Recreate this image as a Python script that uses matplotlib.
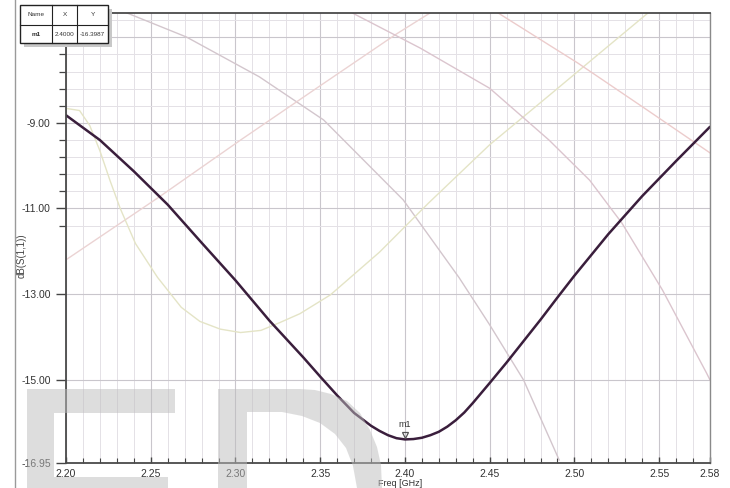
import matplotlib
matplotlib.use('Agg')
import matplotlib.pyplot as plt
from matplotlib.patches import Rectangle, PathPatch
from matplotlib.path import Path
from matplotlib.transforms import offset_copy
import numpy as np

plt.rcParams['font.family'] = ['Liberation Sans Narrow', 'Liberation Sans', 'DejaVu Sans']

# S11 sweep (dB) vs frequency (GHz)
freq = [2.20, 2.22, 2.24, 2.26, 2.28, 2.30, 2.32, 2.34, 2.35, 2.36, 2.37, 2.38,
        2.385, 2.39, 2.395, 2.40, 2.405, 2.41, 2.415, 2.42, 2.425, 2.43, 2.435,
        2.44, 2.45, 2.46, 2.47, 2.48, 2.49, 2.50, 2.52, 2.54, 2.56, 2.58]
s11 = [-8.82, -9.40, -10.13, -10.91, -11.80, -12.68, -13.62, -14.48, -14.93,
       -15.37, -15.78, -16.08, -16.20, -16.30, -16.37, -16.3987, -16.39, -16.36,
       -16.30, -16.22, -16.10, -15.95, -15.77, -15.55, -15.08, -14.60, -14.10,
       -13.60, -13.08, -12.57, -11.60, -10.71, -9.89, -9.09]

# faint traces from earlier sweeps
trace_a_f = [2.236, 2.271, 2.314, 2.352, 2.399, 2.432, 2.450, 2.470, 2.491]
trace_a_db = [-6.43, -6.99, -7.92, -8.93, -10.80, -12.62, -13.72, -15.01, -16.88]

trace_b_f = [2.200, 2.255, 2.303, 2.350, 2.395, 2.416]
trace_b_db = [-12.20, -10.73, -9.40, -8.13, -6.92, -6.40]

trace_c_f = [2.200, 2.208, 2.214, 2.220, 2.226, 2.232, 2.241, 2.254, 2.268, 2.279,
             2.291, 2.303, 2.315, 2.326, 2.338, 2.356, 2.385, 2.414, 2.450,
             2.485, 2.514, 2.544]
trace_c_db = [-8.66, -8.71, -9.06, -9.65, -10.35, -11.00, -11.82, -12.61, -13.31,
              -13.64, -13.82, -13.90, -13.85, -13.67, -13.46, -13.02, -12.02,
              -10.87, -9.51, -8.36, -7.40, -6.41]

trace_d_f = [2.369, 2.409, 2.450, 2.485, 2.509, 2.528, 2.552, 2.578, 2.580]
trace_d_db = [-6.43, -7.25, -8.19, -9.40, -10.34, -11.34, -12.91, -14.85, -15.01]

trace_e_f = [2.455, 2.502, 2.543, 2.580]
trace_e_db = [-6.43, -7.60, -8.70, -9.70]

xticks = [2.20, 2.25, 2.30, 2.35, 2.40, 2.45, 2.50, 2.55, 2.58]
yticks = [-7.00, -9.00, -11.00, -13.00, -15.00, -16.95]
# the -7.00 label sits under the marker table
ytick_labels = ['', '-9.00', '-11.00', '-13.00', '-15.00', '-16.95']

marker_f = 2.40
marker_db = -16.3987

W, H = 730, 488
fig = plt.figure(figsize=(W / 100, H / 100), dpi=100)
ax = fig.add_axes([66 / W, 25 / H, 644 / W, 450 / H])

ax.set_xlim(2.20, 2.58)
ax.set_ylim(-16.95, -6.43)

ax.set_xticks(xticks)
ax.set_xticklabels([f'{t:.2f}' for t in xticks])
ax.set_xticks(np.round(np.arange(2.20, 2.585, 0.01), 3), minor=True)
ax.set_yticks(yticks)
ax.set_yticklabels(ytick_labels)
ax.set_yticks([-9 + 0.4 * k for k in range(-6, 20) if -16.95 < -9 + 0.4 * k < -6.43], minor=True)

ax.grid(which='minor', color='#e4e1e6', lw=0.7)
ax.grid(which='major', color='#c9c6cc', lw=0.8)
ax.set_axisbelow(True)

ax.tick_params(axis='x', which='both', direction='in', colors='#444', labelsize=7.5,
               labelcolor='#333', pad=4)
ax.tick_params(axis='x', which='major', length=4, width=1)
ax.tick_params(axis='x', which='minor', length=3.5, width=0.8)
ax.tick_params(axis='y', which='both', direction='out', colors='#444', labelsize=7.5,
               labelcolor='#333', pad=4)
ax.tick_params(axis='y', which='major', length=7, width=1)
ax.tick_params(axis='y', which='minor', length=5, width=0.9)

for side in ['left', 'bottom', 'top']:
    ax.spines[side].set_color('#4a4a4a')
    ax.spines[side].set_linewidth(1.3)
ax.spines['right'].set_color('#8a8a8a')
ax.spines['right'].set_linewidth(1.0)

# old traces, very light
ax.plot(trace_a_f, trace_a_db, color='#d3c6cd', lw=1.0)
ax.plot(trace_b_f, trace_b_db, color='#ebd3d3', lw=1.0)
ax.plot(trace_c_f, trace_c_db, color='#e4e4c6', lw=1.0)
ax.plot(trace_d_f, trace_d_db, color='#dbc5ce', lw=1.0)
ax.plot(trace_e_f, trace_e_db, color='#eccccc', lw=1.0)

# current S11
ax.plot(freq, s11, color='#3a1e3c', lw=1.8, solid_capstyle='round')

# marker m1
tri = offset_copy(ax.transData, fig=fig, x=0, y=4, units='dots')
ax.plot([marker_f], [marker_db], marker='v', ms=5, mfc='none', mec='#555',
        mew=0.9, transform=tri, clip_on=False)
ax.annotate('m1', (marker_f, marker_db), xytext=(0, 15), textcoords='offset pixels',
            ha='center', va='center', fontsize=6.5, color='#333')

ax.set_ylabel('dB(S(1,1))', fontsize=7, color='#444', labelpad=8)
ax.yaxis.set_label_coords(-39 / 644, 0.46)
fig.text(400 / W, 1 - 479 / H, 'Freq [GHz]', ha='center', va='top', fontsize=6.5, color='#333')

# window border on the left
fig.add_artist(plt.Line2D([15 / W, 15 / W], [0, 1], color='#9a9a9a', lw=1.0))


def px(x, y):
    return (x / W, 1 - y / H)


# marker table
fig.add_artist(Rectangle(px(24, 47), 88 / W, 38 / H, facecolor='#c8c8c8',
                         edgecolor='none', zorder=9))
fig.add_artist(Rectangle(px(20, 43), 88 / W, 38 / H, facecolor='white',
                         edgecolor='#222', lw=1.0, zorder=10))
for xx in [52, 77]:
    fig.add_artist(plt.Line2D([xx / W, xx / W], [1 - 5 / H, 1 - 43 / H], color='#222',
                              lw=0.8, zorder=11))
fig.add_artist(plt.Line2D([20 / W, 108 / W], [1 - 25 / H, 1 - 25 / H], color='#222',
                          lw=0.8, zorder=11))
cells = [('Name', 36, 15), ('X', 64.5, 15), ('Y', 92.5, 15),
         ('m1', 36, 34), (f'{marker_f:.4f}', 64.5, 34), (f'{marker_db:.4f}', 92.5, 34)]
for txt, cx, cy in cells:
    fig.text(cx / W, 1 - cy / H, txt, ha='center', va='center', fontsize=4.6,
             color='#333', zorder=12, fontweight='bold' if txt == 'm1' else 'normal')

# grey lettering along the bottom
e_verts = [(27, 389), (175, 389), (175, 413), (54, 413), (54, 477), (168, 477),
           (168, 488), (27, 488), (27, 389)]
e_path = Path([px(*v) for v in e_verts])
fig.add_artist(PathPatch(e_path, facecolor='#bdbdbd', edgecolor='none', alpha=0.5,
                         transform=fig.transFigure, zorder=8))

d_outer = [(218, 389), (300, 389), (315, 390), (331, 394), (347, 401), (360, 413),
           (370, 430), (377, 447), (381, 465), (382, 488), (218, 488)]
d_inner = [(247, 412), (282, 412), (302, 416), (320, 423), (335, 434), (346, 448),
           (353, 466), (357, 488), (247, 488)]
verts = [px(*v) for v in d_outer] + [px(*d_outer[0])]
codes = [Path.MOVETO] + [Path.LINETO] * (len(d_outer) - 1) + [Path.CLOSEPOLY]
inner = d_inner[::-1]
verts += [px(*v) for v in inner] + [px(*inner[0])]
codes += [Path.MOVETO] + [Path.LINETO] * (len(inner) - 1) + [Path.CLOSEPOLY]
fig.add_artist(PathPatch(Path(verts, codes), facecolor='#bdbdbd', edgecolor='none',
                         alpha=0.5, transform=fig.transFigure, zorder=8))

plt.savefig('out.png', dpi=100)
plt.close(fig)
